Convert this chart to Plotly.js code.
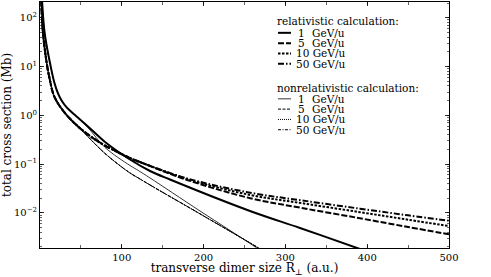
<!DOCTYPE html>
<html>
<head>
<meta charset="utf-8">
<script src="https://cdn.plot.ly/plotly-3.0.1.min.js"></script>
<style>html,body{margin:0;padding:0;background:#fff;}#chart{width:491px;height:277px;}</style>
</head>
<body>
<div id="chart"></div>
<script>
// ---- data (x: a.u., y: Mb) ----
// 1 GeV/u curves (relativistic and nonrelativistic) share this branch at small size
const lowEShareX = [1.5, 2.6, 5.75, 13.1, 17.7, 22.0, 26.0, 31.8, 42.8];
const lowEShareY = [589, 210, 47.9, 9.95, 4.59, 2.80, 2.06, 1.51, 1.01];
// 5/10/50 GeV/u curves (relativistic and nonrelativistic) share this branch at small size
const highEShareX = [1.0, 1.6, 3.67, 8.9, 12.6, 15.3, 18.0, 23.2, 32.6, 46.8];
const highEShareY = [479, 210, 47.9, 9.91, 4.81, 3.07, 2.32, 1.63, 1.01, 0.583];

// relativistic 1 GeV/u
const rel1X = [59.0, 79.5, 110, 134.5, 158.9, 256.7, 317.8, 387.5, 403];
const rel1Y = [0.583, 0.284, 0.124, 0.0722, 0.0483, 0.01094, 0.0049, 0.00191, 0.00155];
// relativistic 5/10/50 GeV/u: common middle part
const relHighX = [61.1, 79.5, 110, 122.2];
const relHighY = [0.377, 0.240, 0.133, 0.110];
// relativistic 5, 10, 50 GeV/u: tails
const relTailX = [180, 257, 320, 391, 450, 500];
const rel5Y  = [0.0473, 0.0200, 0.0126, 0.00776, 0.00513, 0.00363];
const rel10Y = [0.0490, 0.0233, 0.0158, 0.01035, 0.00724, 0.00537];
const rel50Y = [0.0507, 0.0259, 0.0180, 0.0122, 0.00891, 0.00692];
// nonrelativistic 1 GeV/u
const nonrel1X = [59.0, 79.5, 110, 120.2, 134.5, 195.6, 265, 278.7];
const nonrel1Y = [0.549, 0.219, 0.0936, 0.0739, 0.0519, 0.01094, 0.00191, 0.00131];
// nonrelativistic 5, 10, 50 GeV/u (coincide in the figure)
const nonrelHighX = [79.5, 110, 120.2, 134.5, 195.6, 267.1, 281];
const nonrelHighY = [0.165, 0.0657, 0.0519, 0.0373, 0.00955, 0.00191, 0.00137];

const energies = ['1', '5', '10', '50'];
const xTicks = [100, 200, 300, 400, 500];
const yTicks = [0.01, 0.1, 1, 10, 100];
const yTickText = ['10<sup>\u22122</sup>', '10<sup>\u22121</sup>', '10<sup>0</sup>', '10<sup>1</sup>', '10<sup>2</sup>'];

// ---- styles ----
const FONT = 'DejaVu Serif, Liberation Serif, serif';
const relStyles = [
  {width: 2, dash: 'solid'},
  {width: 2, dash: '6px,2px'},
  {width: 2, dash: '2.5px,1.5px'},
  {width: 2, dash: '6px,2px,1.5px,2px'}
];
const nonrelStyles = [
  {width: 0.8, dash: 'solid'},
  {width: 1, dash: '3px,1.5px'},
  {width: 1, dash: '1px,1px'},
  {width: 1, dash: '3px,1.5px,1px,1.5px'}
];

const relSeries = [
  {x: lowEShareX.concat(rel1X), y: lowEShareY.concat(rel1Y)},
  {x: highEShareX.concat(relHighX, relTailX), y: highEShareY.concat(relHighY, rel5Y)},
  {x: highEShareX.concat(relHighX, relTailX), y: highEShareY.concat(relHighY, rel10Y)},
  {x: highEShareX.concat(relHighX, relTailX), y: highEShareY.concat(relHighY, rel50Y)}
];
const nonrelSeries = [
  {x: lowEShareX.concat(nonrel1X), y: lowEShareY.concat(nonrel1Y)},
  {x: highEShareX.concat(nonrelHighX), y: highEShareY.concat(nonrelHighY)},
  {x: highEShareX.concat(nonrelHighX), y: highEShareY.concat(nonrelHighY)},
  {x: highEShareX.concat(nonrelHighX), y: highEShareY.concat(nonrelHighY)}
];

const traces = [];
nonrelSeries.forEach((s, i) => traces.push({
  type: 'scatter', mode: 'lines', x: s.x, y: s.y,
  name: 'nonrelativistic ' + energies[i] + ' GeV/u', showlegend: false,
  line: {color: 'black', width: nonrelStyles[i].width, dash: nonrelStyles[i].dash, shape: 'spline', smoothing: 1}
}));
relSeries.forEach((s, i) => traces.push({
  type: 'scatter', mode: 'lines', x: s.x, y: s.y,
  name: 'relativistic ' + energies[i] + ' GeV/u', showlegend: false,
  line: {color: 'black', width: relStyles[i].width, dash: relStyles[i].dash, shape: 'spline', smoothing: 1}
}));

// ---- legend (drawn as text + key lines in paper space) ----
const M = {l: 40, r: 42, t: 2, b: 29};
const W = 491, H = 277;
const pw = W - M.l - M.r, ph = H - M.t - M.b;
const px2x = p => (p - M.l) / pw;
const px2y = p => 1 - (p - M.t) / ph;

const annotations = [];
const shapes = [];
const legFont = {family: FONT, size: 10.5, color: 'black'};
function legendBlock(title, top, styles) {
  annotations.push({xref: 'paper', yref: 'paper', x: px2x(276), y: px2y(top), xanchor: 'left', yanchor: 'middle',
    text: title, showarrow: false, font: legFont, borderpad: 0});
  energies.forEach((e, i) => {
    const yy = top + 10.3 * (i + 1.1);
    shapes.push({type: 'line', xref: 'paper', yref: 'paper', x0: px2x(278), x1: px2x(291), y0: px2y(yy), y1: px2y(yy),
      line: {color: 'black', width: styles[i].width, dash: styles[i].dash}});
    const label = e.length === 1 ? '\u2009' + e + '\u2002\u2009GeV/u' : e + ' GeV/u';
    annotations.push({xref: 'paper', yref: 'paper', x: px2x(295), y: px2y(yy), xanchor: 'left', yanchor: 'middle',
      text: label, showarrow: false, font: legFont, borderpad: 0});
  });
}
legendBlock('relativistic calculation:', 21.5, relStyles);
legendBlock('nonrelativistic calculation:', 87.5, nonrelStyles);

const layout = {
  width: W, height: H,
  margin: M,
  paper_bgcolor: 'white', plot_bgcolor: 'white',
  showlegend: false,
  font: {family: FONT, size: 10, color: 'black'},
  xaxis: {
    range: [0, 500], tickvals: xTicks, ticks: 'inside', ticklen: 4, tickwidth: 0.8, tickcolor: 'black',
    minor: {dtick: 50, ticks: 'inside', ticklen: 3, tickwidth: 0.6, tickcolor: 'black', showgrid: false},
    showline: true, linecolor: 'black', linewidth: 1, mirror: 'allticks', showgrid: false, zeroline: false,
    tickfont: {family: FONT, size: 10, color: 'black'},
    title: {text: 'transverse dimer size R<sub>\u22a5</sub> (a.u.)', font: {family: FONT, size: 12, color: 'black'}, standoff: 5}
  },
  yaxis: {
    type: 'log', range: [-2.72, 2.322], tickvals: yTicks, ticktext: yTickText,
    ticks: 'inside', ticklen: 4, tickwidth: 0.8, tickcolor: 'black',
    minor: {dtick: 'D1', ticks: 'inside', ticklen: 2, tickwidth: 0.6, tickcolor: 'black', showgrid: false},
    showline: true, linecolor: 'black', linewidth: 1, mirror: 'allticks', showgrid: false, zeroline: false,
    tickfont: {family: FONT, size: 10, color: 'black'},
    title: {text: 'total cross section (Mb)', font: {family: FONT, size: 12, color: 'black'}, standoff: 2}
  },
  annotations: annotations,
  shapes: shapes
};

Plotly.newPlot('chart', traces, layout, {staticPlot: true, displayModeBar: false});
</script>
</body>
</html>
